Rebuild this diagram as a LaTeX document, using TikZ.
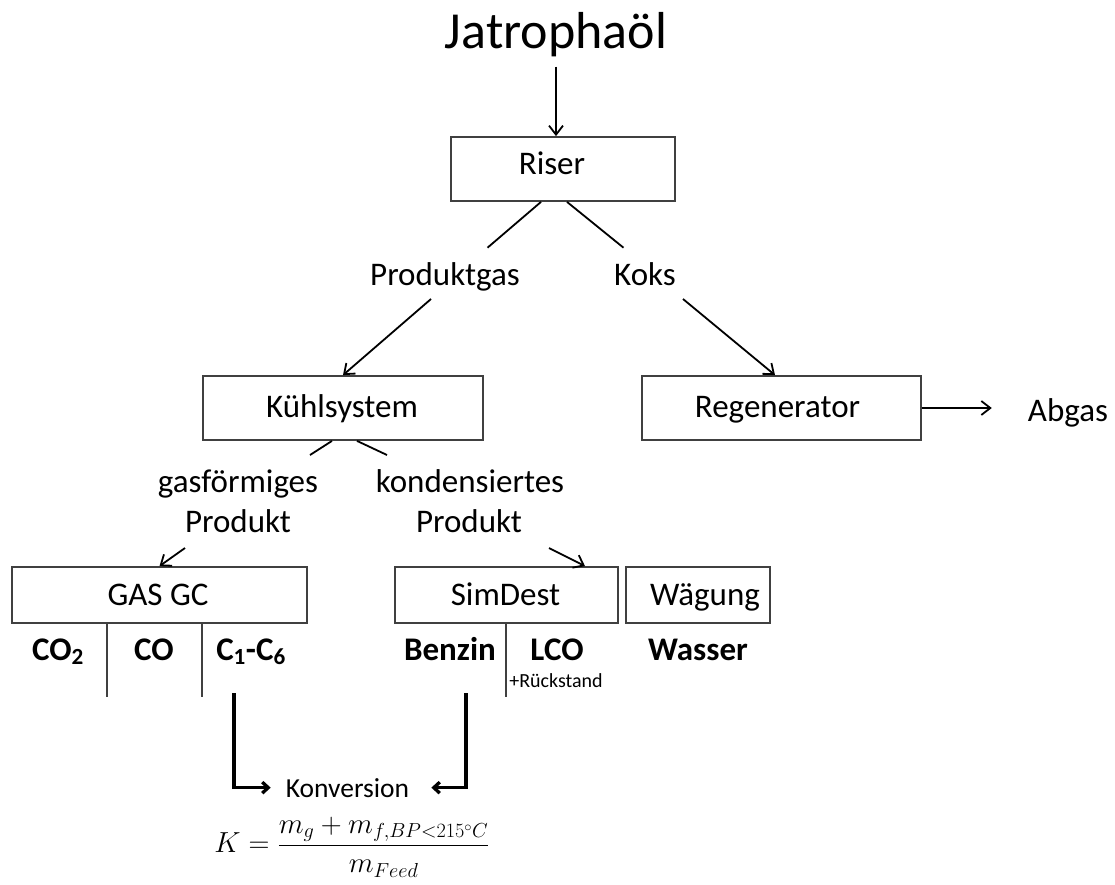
\documentclass[tikz,border=0pt]{standalone}
\usepackage{fix-cm}
\usepackage{fontspec}
\setmainfont{Carlito}
\usetikzlibrary{arrows.meta,calc}
\definecolor{boxgray}{HTML}{404040}
\begin{document}
\begin{tikzpicture}[x=1pt,y=-1pt,
  box/.style={draw=boxgray, line width=1.8pt, inner sep=0pt},
  lbl/.style={inner sep=0pt, anchor=base, font=\fontsize{33}{40}\selectfont},
  blbl/.style={lbl, font=\fontsize{33}{40}\selectfont\bfseries},
  conn/.style={line width=1.8pt},
  divider/.style={line width=1.3pt, draw=boxgray},
  arr/.style={conn, -{Straight Barb[length=9pt,width=14pt]}},
  boldarrow/.style={line width=3.3pt, -{Straight Barb[length=6pt,width=11pt]}}]
\useasboundingbox (0,0) rectangle (1115,884);

% title and boxes
\node[lbl, font=\fontsize{52}{60}\selectfont] (title) at (556,48) {Jatrophaöl};
\node[box, minimum width=224pt, minimum height=64pt] (riser) at (563,169) {};
\node[lbl] (riserT) at (552,174) {Riser};
\node[box, minimum width=280pt, minimum height=64pt] (kuehl) at (343,408) {};
\node[lbl] (kuehlT) at (342,417) {Kühlsystem};
\node[box, minimum width=279pt, minimum height=64pt] (regen) at (781.5,408) {};
\node[lbl] (regenT) at (777.5,417) {Regenerator};
\node[lbl] (abgas) at (1068,421) {Abgas};
\node[lbl] (prodgas) at (445,285) {Produktgas};
\node[lbl] (koks) at (645,285) {Koks};
\node[lbl] (gasf) at (238,492) {gasförmiges};
\node[lbl] (gasp) at (238,532) {Produkt};
\node[lbl] (kond) at (470,492) {kondensiertes};
\node[lbl] (kondp) at (469,532) {Produkt};
\node[box, minimum width=295pt, minimum height=56pt] (gasgc) at (159.5,595) {};
\node[lbl] (gasgcT) at (158,605) {GAS GC};
\node[box, minimum width=223pt, minimum height=56pt] (simdest) at (506.5,595) {};
\node[lbl] (simdestT) at (505.5,605) {SimDest};
\node[box, minimum width=144pt, minimum height=56pt] (waeg) at (698,595) {};
\node[lbl] (waegT) at (705,605) {Wägung};

% products
\node[blbl] (co2) at (58,660) {CO\textsubscript{2}};
\node[blbl] (co) at (154,660) {CO};
\node[blbl] (c16) at (251,660) {C\textsubscript{1}-C\textsubscript{6}};
\node[blbl] (benzin) at (450,660) {Benzin};
\node[blbl] (lco) at (557,660) {LCO};
\node[lbl, font=\fontsize{20}{24}\selectfont] (rueck) at (556,687) {+Rückstand};
\node[blbl] (wasser) at (698,660) {Wasser};
\node[lbl, font=\fontsize{27.5}{33}\selectfont] (konv) at (347.5,797) {Konversion};
\node[inner sep=0pt, font=\fontsize{29}{35}\selectfont] (formel) at (352,847)
  {$K=\displaystyle\frac{m_g+m_{f,BP<215^{\circ}C}}{m_{Feed}}$};

% connectors
\draw[arr] ([yshift=-10pt]title.south) -- (title.south |- riser.north);
\draw[conn] ($(riser.south)+(-22,0)$) -- ($(prodgas.base)+(42.5,-37.3)$);
\draw[conn] ($(riser.south)+(4,0)$) -- ($(koks.base)+(-21.5,-37.3)$);
\draw[arr] ($(prodgas.base)+(-14,14)$) -- (kuehl.north);
\draw[arr] ($(koks.base)+(38,14)$) -- ($(regen.north)+(-6.5,0)$);
\draw[arr, shorten >=36pt] (regen.east) -- (regen.east -| abgas.west);
\draw[conn] ($(kuehl.south)+(-11,0)$) -- ($(gasf.base)+(72,-37)$);
\draw[conn] ($(kuehl.south)+(14,0)$) -- ($(kond.base)+(-83,-37)$);
\draw[arr] ($(gasp.base)+(-53,16)$) -- (gasgc.north);
\draw[arr] ($(kondp.base)+(80,16)$) -- ($(simdest.north)+(78.5,0)$);

% dividers
\draw[divider] ($(gasgc.south west)+(96,0)$) -- ++(0,73);
\draw[divider] ($(gasgc.south west)+(191,0)$) -- ++(0,73);
\draw[divider] ($(simdest.south west)+(112,0)$) -- ++(0,73);

% conversion arrows
\coordinate (s1) at (234,693);
\coordinate (s2) at (466,693);
\draw[boldarrow, shorten >=15pt] (s1) |- (konv.west);
\draw[boldarrow, shorten >=22pt] (s2) |- (konv.east);
\end{tikzpicture}
\end{document}
